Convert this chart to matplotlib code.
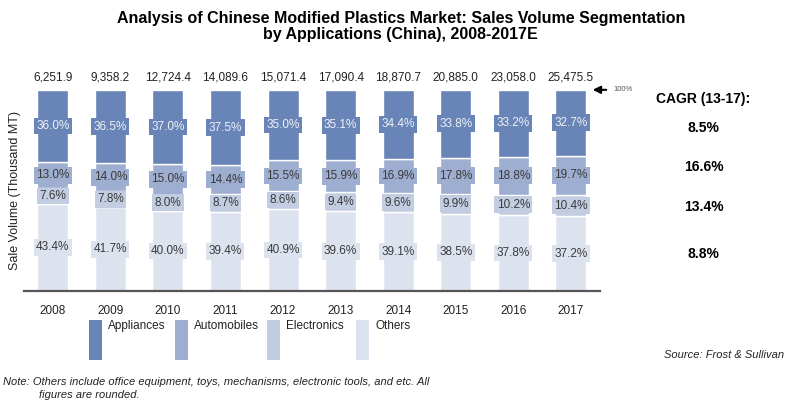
import matplotlib.pyplot as plt
from matplotlib.patches import Rectangle

plt.rcParams['font.family'] = ['Liberation Sans Narrow', 'Liberation Sans', 'DejaVu Sans']

years = ['2008', '2009', '2010', '2011', '2012', '2013', '2014', '2015', '2016', '2017']
totals = ['6,251.9', '9,358.2', '12,724.4', '14,089.6', '15,071.4',
          '17,090.4', '18,870.7', '20,885.0', '23,058.0', '25,475.5']
others = [43.4, 41.7, 40.0, 39.4, 40.9, 39.6, 39.1, 38.5, 37.8, 37.2]
electronics = [7.6, 7.8, 8.0, 8.7, 8.6, 9.4, 9.6, 9.9, 10.2, 10.4]
automobiles = [13.0, 14.0, 15.0, 14.4, 15.5, 15.9, 16.9, 17.8, 18.8, 19.7]
appliances = [36.0, 36.5, 37.0, 37.5, 35.0, 35.1, 34.4, 33.8, 33.2, 32.7]
cagr = ['8.5%', '16.6%', '13.4%', '8.8%']

segments = [
    ('Others', others, '#dde3ee', '#3a3a3a'),
    ('Electronics', electronics, '#c3cde2', '#3a3a3a'),
    ('Automobiles', automobiles, '#9eaed0', '#3a3a3a'),
    ('Appliances', appliances, '#6985b7', '#eef1f7'),
]

fig = plt.figure(figsize=(7.86, 4.01), dpi=100)
ax = fig.add_axes([0.0305, 0.274, 0.7325, 0.502])

x = list(range(len(years)))
bottom = [0.0] * len(years)
for name, vals, color, tcolor in segments:
    ax.bar(x, vals, width=0.54, bottom=bottom, color=color,
           edgecolor='white', linewidth=1.0)
    for i, v in enumerate(vals):
        ax.text(i, bottom[i] + v / 2, '{:.1f}%'.format(v), ha='center', va='center',
                fontsize=8.5, color=tcolor,
                bbox=dict(boxstyle='square,pad=0.2', facecolor=color, edgecolor='none'))
    bottom = [b + v for b, v in zip(bottom, vals)]

# totals above each bar
for i, t in enumerate(totals):
    ax.text(i, 103, t, ha='center', va='bottom', fontsize=8.5, color='#222222')

ax.set_xlim(-0.5, 9.5)
ax.set_ylim(0, 100)
ax.set_xticks(x)
ax.set_xticklabels(years, fontsize=8.5, color='#222222')
ax.tick_params(axis='x', length=0, pad=10)
ax.set_yticks([])
for s in ['top', 'right', 'left']:
    ax.spines[s].set_visible(False)
ax.spines['bottom'].set_color('#555555')
ax.spines['bottom'].set_linewidth(1.6)

ax.set_ylabel('Sale Volume (Thousand MT)', fontsize=9, color='#222222', labelpad=2)

# 100% marker
ax.annotate('', xy=(9.33, 100), xytext=(9.66, 100), annotation_clip=False,
            arrowprops=dict(arrowstyle='-|>', color='black', lw=1.5, mutation_scale=11))
ax.text(9.74, 100, '100%', fontsize=5.5, color='#555555', va='center', ha='left', clip_on=False)

# CAGR column
fig.text(0.895, 0.752, 'CAGR (13-17):', fontsize=10, fontweight='bold', ha='center', va='center')
for yy, c in zip([0.681, 0.584, 0.484, 0.366], cagr):
    fig.text(0.895, yy, c, fontsize=10, fontweight='bold', ha='center', va='center')

fig.suptitle('Analysis of Chinese Modified Plastics Market: Sales Volume Segmentation\n'
             'by Applications (China), 2008-2017E',
             x=0.51, y=0.972, fontsize=11.5, fontweight='bold', linespacing=1.1)

# legend drawn as tall swatches with labels at the top
leg_x = [89, 175, 267, 356]
for lx, (name, vals, color, tcolor) in zip(leg_x, segments[::-1]):
    fig.patches.append(Rectangle((lx / 786, 1 - 360 / 401), 13 / 786, 40 / 401,
                                 transform=fig.transFigure, facecolor=color, edgecolor='none'))
    fig.text((lx + 19) / 786, 1 - 326 / 401, name, fontsize=8.5, va='center', ha='left',
             color='#222222')

fig.text(0.998, 1 - 355 / 401, 'Source: Frost & Sullivan', fontsize=8, style='italic',
         ha='right', va='center', color='#222222')
fig.text(0.004, 1 - 382 / 401,
         'Note: Others include office equipment, toys, mechanisms, electronic tools, and etc. All',
         fontsize=8, style='italic', ha='left', va='center', color='#222222')
fig.text(0.05, 1 - 395 / 401, 'figures are rounded.', fontsize=8, style='italic',
         ha='left', va='center', color='#222222')

fig.savefig('out.png', dpi=100)
